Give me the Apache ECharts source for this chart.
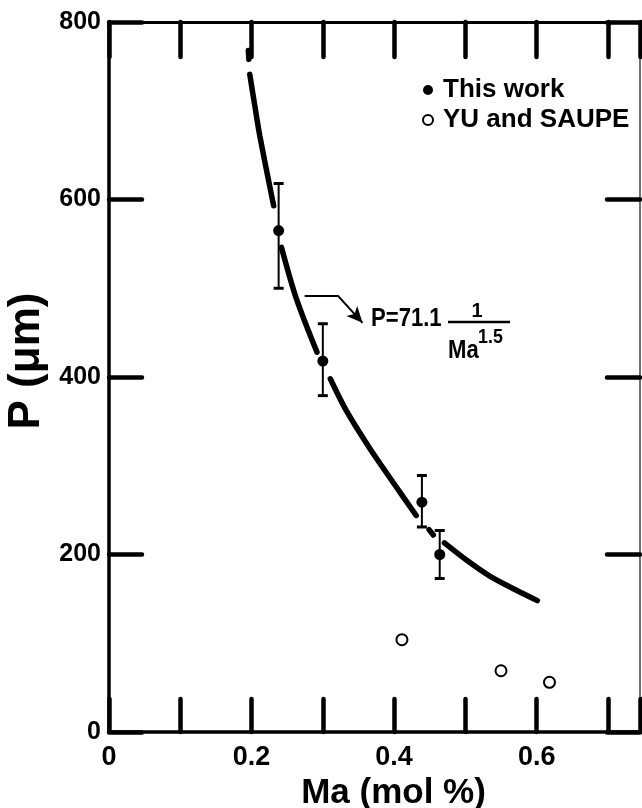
<!DOCTYPE html>
<html>
<head>
<meta charset="utf-8">
<script src="https://cdn.jsdelivr.net/npm/echarts@6/dist/echarts.min.js"></script>
<style>
  html, body { margin: 0; padding: 0; background: #fff; }
  #chart { width: 642px; height: 808px; }
</style>
</head>
<body>
<div id="chart"></div>
<script>
  // values
  const thisWorkMa = [0.238, 0.30, 0.439, 0.464];
  const thisWorkP = [565, 418, 259, 200];
  const thisWorkLow = [500, 379, 231, 173];
  const thisWorkHigh = [618, 460, 289, 227];

  const yuMa = [0.411, 0.550, 0.618];
  const yuP = [104, 69, 56];

  // fitted curve P = 71.1 / Ma^1.5, traced in pieces (it is broken near the error bars)
  const curvePieces = [
    [[0.1955, 768], [0.1962, 758]],
    [[0.1975, 741], [0.2045, 706], [0.2115, 672], [0.231, 593]],
    [[0.242, 546], [0.263, 488], [0.2918, 428]],
    [[0.3105, 398], [0.333, 362], [0.3655, 320], [0.398, 282], [0.431, 244]],
    [[0.449, 228], [0.455, 222]],
    [[0.4706, 213], [0.501, 194], [0.5336, 176], [0.571, 160], [0.601, 148]]
  ];

  const xTickLabels = ['0', '0.2', '0.4', '0.6'];
  const yTickLabels = ['0', '200', '400', '600', '800'];

  // leader line from the curve to the formula
  const arrowPath = [[0.2745, 492], [0.3207, 492], [0.3557, 461]];

  let curveData = [];
  curvePieces.forEach(function (p, i) {
    if (i > 0) curveData.push([p[0][0] - 0.001, null]);
    curveData = curveData.concat(p);
  });

  const font = '"Liberation Sans", Arial, sans-serif';

  const myChart = echarts.init(document.getElementById('chart'));

  const tick = { show: true, inside: true, length: 33, lineStyle: { color: '#000', width: 4.5, cap: 'round' } };
  const frameLine = function (w, c) {
    return { show: true, onZero: false, lineStyle: { color: c || '#000', width: w } };
  };

  const option = {
    animation: false,
    backgroundColor: '#fff',
    grid: { left: 109, right: 2, top: 22, bottom: 76, outerBoundsMode: 'none', containLabel: false },
    legend: {
      orient: 'vertical',
      left: 417,
      top: 72,
      itemWidth: 20,
      itemHeight: 10,
      itemGap: 4,
      selectedMode: false,
      textStyle: { fontFamily: font, fontWeight: 'bold', fontSize: 26, color: '#000' },
      data: [
        { name: 'This work', icon: 'circle' },
        { name: 'YU and SAUPE', icon: 'emptyCircle' }
      ]
    },
    xAxis: [{
      type: 'value', position: 'bottom', min: 0, max: 0.745, interval: 0.1,
      axisLine: frameLine(3.5),
      axisTick: tick,
      splitLine: { show: false },
      axisLabel: {
        margin: 12, color: '#000', fontFamily: font, fontWeight: 'bold', fontSize: 27,
        formatter: function (v) {
          const s = v === 0 ? '0' : (+v.toFixed(1)).toString();
          return xTickLabels.indexOf(s) >= 0 ? s : '';
        }
      },
      name: 'Ma (mol %)', nameLocation: 'middle', nameGap: 38,
      nameTextStyle: { color: '#000', fontFamily: font, fontWeight: 'bold', fontSize: 35, padding: [0, 0, 0, 38] }
    }, {
      type: 'value', position: 'top', min: 0, max: 0.745, interval: 0.1,
      axisLine: frameLine(3),
      axisTick: Object.assign({}, tick, { length: 35 }),
      axisLabel: { show: false },
      splitLine: { show: false }
    }],
    yAxis: [{
      type: 'value', position: 'left', min: 0, max: 800, interval: 200,
      axisLine: frameLine(3.5),
      axisTick: tick,
      splitLine: { show: false },
      axisLabel: {
        margin: 8, color: '#000', fontFamily: font, fontWeight: 'bold', fontSize: 25,
        formatter: function (v) {
          const s = String(Math.round(v));
          return yTickLabels.indexOf(s) >= 0 ? s : '';
        }
      },
      name: 'P (μm)', nameLocation: 'middle', nameGap: 58,
      nameTextStyle: { color: '#000', fontFamily: font, fontWeight: 'bold', fontSize: 44, padding: [0, 0, 0, 32] }
    }, {
      type: 'value', position: 'right', min: 0, max: 800, interval: 200,
      axisLine: frameLine(1.5, '#444'),
      axisTick: tick,
      axisLabel: { show: false },
      splitLine: { show: false }
    }],
    series: [{
      name: 'fit',
      type: 'line',
      data: curveData,
      showSymbol: false,
      connectNulls: false,
      smooth: 0.3,
      lineStyle: { color: '#000', width: 5.5, cap: 'round' },
      z: 2,
      markLine: {
        silent: true,
        symbol: ['none', 'none'],
        label: { show: false },
        lineStyle: { color: '#000', width: 2, type: 'solid' },
        data: [
          [{ coord: arrowPath[0] }, { coord: arrowPath[1] }],
          [{ coord: arrowPath[1], symbol: 'none' }, { coord: arrowPath[2], symbol: 'arrow', symbolSize: [11, 16] }]
        ]
      }
    }, {
      name: 'errors',
      type: 'custom',
      data: thisWorkMa.map(function (x, i) { return [x, thisWorkLow[i], thisWorkHigh[i]]; }),
      z: 3,
      renderItem: function (params, api) {
        const top = api.coord([api.value(0), api.value(2)]);
        const bot = api.coord([api.value(0), api.value(1)]);
        const hw = 5;
        return {
          type: 'group',
          children: [
            { type: 'line', shape: { x1: top[0], y1: top[1], x2: bot[0], y2: bot[1] }, style: { stroke: '#000', lineWidth: 2 } },
            { type: 'line', shape: { x1: top[0] - hw, y1: top[1], x2: top[0] + hw, y2: top[1] }, style: { stroke: '#000', lineWidth: 3 } },
            { type: 'line', shape: { x1: bot[0] - hw, y1: bot[1], x2: bot[0] + hw, y2: bot[1] }, style: { stroke: '#000', lineWidth: 3 } }
          ]
        };
      }
    }, {
      name: 'This work',
      type: 'scatter',
      data: thisWorkMa.map(function (x, i) { return [x, thisWorkP[i]]; }),
      symbol: 'circle',
      symbolSize: 11,
      itemStyle: { color: '#000', opacity: 1 },
      z: 4
    }, {
      name: 'YU and SAUPE',
      type: 'scatter',
      data: yuMa.map(function (x, i) { return [x, yuP[i]]; }),
      symbol: 'emptyCircle',
      symbolSize: 11,
      itemStyle: { color: '#000', borderColor: '#000', borderWidth: 2.5, opacity: 1 },
      z: 4
    }],
    graphic: [
      { type: 'text', left: 371, top: 306, scaleX: 0.85, style: { text: 'P=71.1', fontFamily: font, fontWeight: 'bold', fontSize: 26, fill: '#000' } },
      { type: 'line', shape: { x1: 448, y1: 322, x2: 510, y2: 322 }, style: { stroke: '#000', lineWidth: 2.5 } },
      { type: 'text', x: 477, y: 311, style: { text: '1', fontFamily: font, fontWeight: 'bold', fontSize: 20, fill: '#000', align: 'center', verticalAlign: 'middle' } },
      { type: 'text', left: 448, top: 338, scaleX: 0.85, style: { text: 'Ma', fontFamily: font, fontWeight: 'bold', fontSize: 26, fill: '#000' } },
      { type: 'text', left: 478, top: 327, scaleX: 0.85, style: { text: '1.5', fontFamily: font, fontWeight: 'bold', fontSize: 21, fill: '#000' } }
    ]
  };

  myChart.setOption(option);
</script>
</body>
</html>
